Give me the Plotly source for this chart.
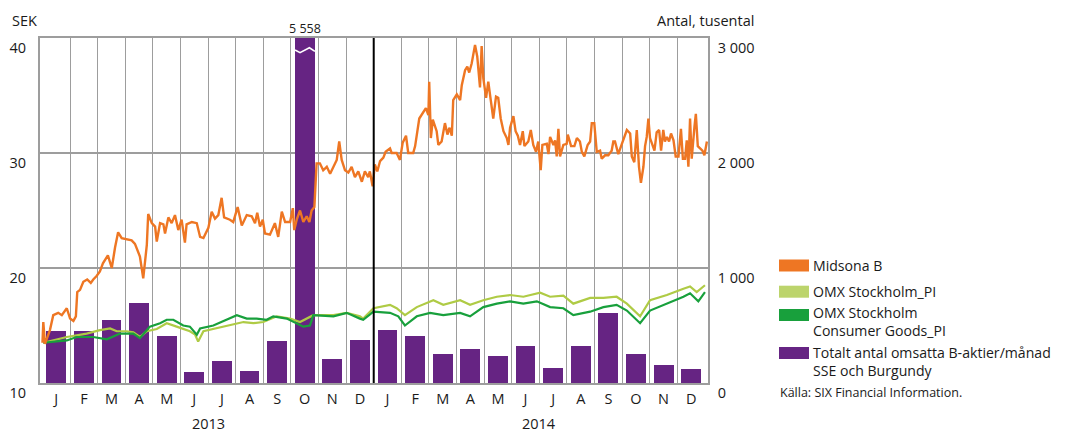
import plotly.graph_objects as go

# ---------------- data ----------------
month_letters = ["J", "F", "M", "A", "M", "J", "J", "A", "S", "O", "N", "D"] * 2
years = ["2013", "2014"]

# Totalt antal omsatta B-aktier/månad (tusental), Jan 2013 .. Dec 2014
volume = [452, 452, 548, 696, 409, 96, 191, 104, 365, 5558, 209, 374,
          461, 409, 252, 296, 235, 322, 130, 322, 609, 252, 157, 122]

# positions in months since 1 Jan 2013
midsona_t = [0.00, 0.03, 0.09, 0.27, 0.39, 0.57, 0.70, 0.82, 0.88, 1.00, 1.12, 1.21, 1.26, 1.36, 1.48,
             1.62, 1.75, 1.84, 1.96, 2.08, 2.19, 2.37, 2.51, 2.63, 2.74, 2.87, 3.03, 3.23, 3.35, 3.53,
             3.65, 3.71, 3.78, 3.83, 3.96, 4.08, 4.14, 4.26, 4.38, 4.44, 4.56, 4.68, 4.80, 4.92, 5.04,
             5.16, 5.22, 5.41, 5.59, 5.71, 5.83, 6.01, 6.13, 6.25, 6.37, 6.49, 6.58, 6.79, 6.91, 7.07,
             7.22, 7.40, 7.58, 7.70, 7.78, 7.88, 7.98, 8.06, 8.24, 8.42, 8.54, 8.67, 8.79, 8.97, 9.07,
             9.12, 9.21, 9.33, 9.45, 9.57, 9.67, 9.75, 9.85, 9.93, 10.05, 10.17, 10.30, 10.42, 10.54, 10.66,
             10.75, 10.84, 10.96, 11.08, 11.20, 11.32, 11.44, 11.57, 11.68, 11.80, 11.86, 11.96, 12.04, 12.13, 12.23,
             12.35, 12.43, 12.59, 12.65, 12.83, 12.95, 13.05, 13.17, 13.25, 13.43, 13.50, 13.65, 13.80, 13.89, 13.98,
             14.01, 14.07, 14.14, 14.28, 14.34, 14.46, 14.52, 14.58, 14.67, 14.74, 14.83, 14.88, 15.01, 15.13, 15.19,
             15.31, 15.39, 15.46, 15.55, 15.67, 15.75, 15.85, 15.91, 15.97, 16.07, 16.15, 16.24, 16.33, 16.43, 16.51,
             16.60, 16.70, 16.82, 16.88, 16.94, 17.06, 17.14, 17.22, 17.30, 17.40, 17.46, 17.60, 17.69, 17.78, 17.88,
             17.96, 18.05, 18.11, 18.27, 18.33, 18.39, 18.51, 18.57, 18.63, 18.69, 18.75, 18.87, 18.99, 19.03, 19.15,
             19.27, 19.36, 19.47, 19.54, 19.63, 19.75, 19.84, 19.90, 19.99, 20.08, 20.20, 20.26, 20.38, 20.50, 20.62,
             20.68, 20.74, 20.86, 20.99, 21.08, 21.17, 21.29, 21.35, 21.44, 21.53, 21.61, 21.68, 21.77, 21.83, 21.89,
             21.95, 22.01, 22.09, 22.17, 22.25, 22.34, 22.41, 22.49, 22.55, 22.62, 22.70, 22.77, 22.86, 22.94, 23.04,
             23.13, 23.20, 23.28, 23.34, 23.40, 23.46, 23.52, 23.62, 23.67, 23.74, 23.82, 23.91, 23.98, 24.07]
midsona_sek = [13.5, 15.3, 13.4, 14.6, 15.9, 16.1, 15.9, 16.3, 16.5, 15.6, 15.4, 15.8, 17.9, 18.1, 18.8,
               19.0, 18.7, 19.0, 19.3, 19.7, 20.4, 21.1, 20.0, 21.8, 23.1, 22.6, 22.5, 22.4, 22.1, 21.0,
               19.1, 20.4, 22.0, 24.7, 23.9, 23.6, 22.3, 23.9, 23.8, 23.0, 24.4, 23.9, 24.6, 23.3, 24.2,
               22.2, 23.8, 24.0, 23.9, 22.7, 22.6, 23.5, 24.9, 24.3, 24.6, 26.1, 24.4, 24.2, 24.0, 25.3,
               23.7, 24.6, 24.5, 23.9, 24.8, 23.6, 24.2, 23.0, 22.9, 23.9, 22.7, 24.9, 24.0, 24.0, 25.2,
               23.3, 24.2, 25.0, 24.0, 24.5, 24.0, 25.0, 25.3, 29.1, 29.1, 28.5, 28.8, 28.2, 28.8, 29.4,
               31.0, 29.4, 28.5, 28.3, 28.8, 27.9, 28.4, 27.5, 28.4, 27.9, 28.4, 27.1, 29.0, 28.4, 29.3,
               29.6, 30.1, 30.4, 30.0, 30.0, 29.4, 30.9, 31.5, 30.0, 30.0, 30.6, 33.0, 33.5, 33.9, 33.3,
               36.2, 31.3, 32.9, 31.9, 30.7, 31.0, 32.0, 32.6, 31.6, 32.2, 31.5, 34.6, 35.1, 34.6, 35.9,
               37.2, 37.5, 37.0, 37.8, 39.4, 38.4, 35.7, 39.3, 36.5, 34.8, 36.2, 34.6, 33.0, 34.9, 34.8,
               33.0, 31.9, 31.3, 30.7, 32.2, 33.2, 31.9, 31.5, 30.7, 31.9, 30.6, 31.0, 32.0, 30.7, 30.1,
               31.0, 28.5, 30.7, 30.8, 29.9, 31.4, 30.7, 31.1, 29.7, 32.1, 29.7, 30.7, 30.8, 31.6, 30.6,
               30.6, 31.3, 31.0, 30.1, 29.7, 30.7, 31.0, 32.6, 32.6, 30.1, 30.2, 29.5, 29.8, 29.8, 30.2,
               31.0, 31.0, 29.9, 30.8, 31.4, 32.0, 31.7, 29.7, 29.2, 32.0, 28.8, 27.4, 28.8, 30.6, 31.4,
               33.0, 31.3, 30.8, 30.2, 31.8, 32.0, 30.2, 32.0, 31.0, 31.4, 31.0, 31.7, 31.1, 29.7, 29.7,
               32.1, 29.5, 29.5, 31.1, 28.8, 33.0, 29.5, 32.3, 33.4, 30.6, 30.4, 30.2, 29.8, 31.0]

omx_t = [0.03, 0.88, 1.60, 2.08, 2.45, 2.69, 3.05, 3.29, 3.53, 3.78, 4.14, 4.50, 4.86, 5.34, 5.53,
         5.64, 5.83, 6.31, 6.79, 7.28, 7.64, 8.00, 8.49, 8.97, 9.33, 9.81, 10.54, 11.02, 11.50, 11.62,
         11.99, 12.59, 12.83, 13.13, 13.56, 14.16, 14.52, 15.13, 15.49, 15.97, 16.46, 16.94, 17.42, 18.03, 18.39,
         18.87, 19.23, 19.84, 20.32, 20.80, 21.17, 21.65, 22.01, 22.62, 23.22, 23.46, 23.70, 24.00]
omx_sek = [13.5, 14.0, 14.3, 14.6, 14.75, 14.5, 14.5, 14.4, 14.0, 14.5, 14.7, 15.2, 14.9, 14.5, 14.2,
           13.6, 14.5, 14.75, 15.0, 15.3, 15.2, 15.3, 15.8, 15.6, 15.3, 15.9, 15.9, 16.1, 15.8, 15.6,
           16.5, 16.8, 16.5, 15.9, 16.6, 17.2, 16.8, 17.2, 16.8, 17.2, 17.5, 17.65, 17.5, 17.85, 17.5,
           17.6, 16.9, 17.4, 17.4, 17.5, 16.9, 15.8, 17.2, 17.65, 18.2, 18.4, 17.9, 18.5]

cons_t = [0.03, 0.88, 1.24, 1.84, 2.33, 2.81, 3.29, 3.53, 3.89, 4.26, 4.50, 4.74, 5.10, 5.34, 5.59,
          5.71, 6.19, 6.67, 7.04, 7.40, 7.76, 8.12, 8.36, 8.85, 9.21, 9.45, 9.69, 9.81, 10.54, 11.02,
          11.50, 11.62, 11.99, 12.59, 12.89, 13.13, 13.56, 14.04, 14.52, 15.13, 15.49, 15.97, 16.46, 16.94, 17.42,
          17.91, 18.39, 18.87, 19.23, 19.84, 20.32, 20.80, 21.17, 21.65, 22.01, 22.62, 23.22, 23.46, 23.76, 24.00]
cons_sek = [13.5, 13.7, 14.0, 14.0, 13.8, 14.3, 14.3, 13.9, 14.9, 15.2, 15.5, 15.5, 15.0, 14.9, 14.2,
            14.75, 15.0, 15.5, 15.9, 15.6, 15.6, 15.5, 15.8, 15.6, 15.2, 14.9, 15.0, 15.9, 15.8, 16.1,
            15.6, 15.5, 16.2, 16.1, 15.8, 15.0, 15.8, 16.1, 15.9, 16.1, 15.8, 16.6, 16.9, 17.1, 16.9,
            17.1, 16.6, 16.5, 15.9, 16.2, 16.6, 16.8, 16.3, 15.2, 16.3, 16.9, 17.5, 17.8, 17.1, 17.9]

sek_ticks = [10, 20, 30, 40]
vol_ticks = [0, 1000, 2000, 3000]
vol_ticktext = ["0", "1 000", "2 000", "3 000"]

# ---------------- style ----------------
ORANGE = "#ee7623"
LGREEN = "#afcb45"
LGREEN_SW = "#bcd46c"
DGREEN = "#18a03c"
PURPLE = "#662483"
GRID = "#9d9d9d"
FONT = "Open Sans"
TXT = "#1a1a1a"

n_months = len(volume)
bar_x = [i + 0.5 for i in range(n_months)]

fig = go.Figure()

# bars on primary (right-side) axis so lines draw above them
fig.add_trace(go.Bar(x=bar_x, y=volume, width=0.72, marker=dict(color=PURPLE, line=dict(width=0)),
                     yaxis="y", name="Totalt antal omsatta B-aktier/månad SSE och Burgundy",
                     showlegend=False))

# axis-break mark on the off-scale bar
imax = max(range(n_months), key=lambda i: volume[i])
brk_dx = [-0.35, -0.17, 0.17, 0.37]
brk_dy = [10, -12, 30, -2]
fig.add_trace(go.Scatter(x=[bar_x[imax] + d for d in brk_dx], y=[2885 + d for d in brk_dy],
                         mode="lines", line=dict(color="white", width=1.6), yaxis="y",
                         hoverinfo="skip", showlegend=False))

fig.add_trace(go.Scatter(x=omx_t, y=omx_sek, mode="lines", yaxis="y2",
                         line=dict(color=LGREEN, width=2.2), showlegend=False))
fig.add_trace(go.Scatter(x=cons_t, y=cons_sek, mode="lines", yaxis="y2",
                         line=dict(color=DGREEN, width=2.2), showlegend=False))
fig.add_trace(go.Scatter(x=midsona_t, y=midsona_sek, mode="lines", yaxis="y2",
                         line=dict(color=ORANGE, width=2.4), showlegend=False))

# page body has an 8px margin: the figure is sized so that it fills the window exactly
PAGE_OFF = 8
W, H = 1065 - PAGE_OFF, 435 - PAGE_OFF
PL, PT, PR, PB = 40, 38, 708, 383          # plot-area edges in window pixels
L, T = PL - PAGE_OFF, PT - PAGE_OFF
R, B = W - (PR - PAGE_OFF), H - (PB - PAGE_OFF)
pw, ph = PR - PL, PB - PT


def px_x(X):
    return (X - PL) / pw


def px_y(Y):
    return (PB - Y) / ph


shapes = [dict(type="line", xref="x", yref="paper", x0=12, x1=12, y0=0, y1=1,
               line=dict(color="black", width=2))]
annotations = []

# legend (custom swatches)
legend_items = [
    ("Midsona B", ORANGE, 259.5, 271.5, 265),
    ("OMX Stockholm_PI", LGREEN_SW, 285.7, 297.7, 291.7),
    ("OMX Stockholm<br>Consumer Goods_PI", DGREEN, 309, 321, 321.7),
    ("Totalt antal omsatta B-aktier/månad<br>SSE och Burgundy", PURPLE, 347, 359, 361.7),
]
for label, col, y0, y1, yc in legend_items:
    shapes.append(dict(type="rect", xref="paper", yref="paper", x0=px_x(779), x1=px_x(809),
                       y0=px_y(y1), y1=px_y(y0), fillcolor=col, line=dict(width=0)))
    annotations.append(dict(text=label, xref="paper", yref="paper", x=px_x(811), y=px_y(yc),
                            xanchor="left", yanchor="middle", align="left", showarrow=False,
                            font=dict(family=FONT, size=14.1, color=TXT)))
annotations.append(dict(text="Källa: SIX Financial Information.", xref="paper", yref="paper",
                        x=px_x(778), y=px_y(392), xanchor="left", yanchor="middle",
                        showarrow=False, font=dict(family=FONT, size=12.5, color=TXT)))

# axis titles
annotations.append(dict(text="SEK", xref="paper", yref="paper", x=px_x(10), y=px_y(20),
                        xanchor="left", yanchor="middle", showarrow=False,
                        font=dict(family=FONT, size=14.5, color=TXT)))
annotations.append(dict(text="Antal, tusental", xref="paper", yref="paper", x=px_x(756), y=px_y(20),
                        xanchor="right", yanchor="middle", showarrow=False,
                        font=dict(family=FONT, size=14.5, color=TXT)))
# value of the broken bar
annotations.append(dict(text=f"{volume[imax]:,}".replace(",", " "), xref="x", yref="paper",
                        x=bar_x[imax], y=px_y(28), xanchor="center", yanchor="middle",
                        showarrow=False, font=dict(family=FONT, size=12.5, color=TXT)))
# years
for k, yr in enumerate(years):
    annotations.append(dict(text=yr, xref="x", yref="paper", x=6 + 12 * k, y=px_y(424),
                            xanchor="center", yanchor="middle", showarrow=False,
                            font=dict(family=FONT, size=14.5, color=TXT)))

fig.update_layout(
    width=W, height=H,
    margin=dict(l=L, r=R, t=T, b=B, autoexpand=False),
    paper_bgcolor="white", plot_bgcolor="white",
    showlegend=False,
    bargap=0,
    xaxis=dict(range=[-0.09, 24.11], tickmode="array", tickvals=bar_x, ticktext=month_letters,
               showgrid=False, zeroline=False, ticks="", ticklabelstandoff=2, automargin=False,
               tickfont=dict(family=FONT, size=14.5, color=TXT),
               showline=True, mirror=True, linecolor=GRID, linewidth=1.5,
               minor=dict(tickmode="array", tickvals=list(range(1, n_months)), showgrid=True,
                          gridcolor=GRID, gridwidth=1.2, ticks="")),
    yaxis=dict(range=[0, 3000], side="right", tickmode="array", tickvals=vol_ticks,
               ticktext=vol_ticktext, showgrid=True, gridcolor=GRID, gridwidth=1.5, automargin=False,
               zeroline=False, ticks="", ticklabelposition="outside bottom", ticklabelstandoff=5,
               tickfont=dict(family=FONT, size=14.5, color=TXT),
               showline=True, mirror=True, linecolor=GRID, linewidth=1.5),
    yaxis2=dict(range=[10, 40], overlaying="y", side="left", tickmode="array", tickvals=sek_ticks,
                showgrid=False, zeroline=False, ticks="", ticklabelposition="outside bottom",
                automargin=False, ticklabelstandoff=13,
                tickfont=dict(family=FONT, size=14.5, color=TXT)),
    shapes=shapes,
    annotations=annotations,
)

fig.write_html("out.html")
